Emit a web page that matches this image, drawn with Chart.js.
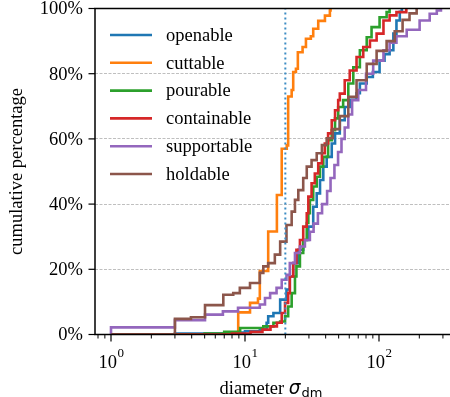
<!DOCTYPE html>
<html>
<head>
<meta charset="utf-8">
<script src="https://cdn.jsdelivr.net/npm/chart.js@4.4.0/dist/chart.umd.min.js"></script>
<style>
  html, body { margin: 0; padding: 0; background: #fff; }
</style>
</head>
<body>
<canvas id="chart" width="450" height="397"></canvas>
<script>
const labels = ["openable", "cuttable", "pourable", "containable", "supportable", "holdable"]
const colors = ["#1f77b4", "#ff7f0e", "#2ca02c", "#d62728", "#9467bd", "#8c564b"]

// diameter (x) and cumulative percentage (y)
const openableX = [1, 3, 7, 10, 12.9, 14.5, 14.9, 16.3, 18.3, 20.4, 21.6, 22.9, 25, 27.2, 29.7, 32.3, 34.3, 36.3, 38.4, 40.7, 44.4, 47, 51, 55.5, 60.5, 68, 72, 81, 90, 101, 110, 120, 128, 135, 143, 148]
const openableY = [0, 0.3, 0.6, 1.0, 1.5, 3.6, 5.6, 6.6, 10.7, 13.8, 17.8, 21.9, 26, 29, 33.1, 39.2, 43.3, 47.4, 51.5, 54.5, 58.6, 61.7, 65.7, 69.8, 72, 74, 77, 79, 80.5, 84, 86, 87.2, 92.3, 96.3, 99, 100]

const cuttableX = [1, 8.9, 10.9, 12.5, 12.9, 14.9, 17.3, 18.8, 20.5, 21, 22.3, 22.9, 24, 24.8, 26.9, 28.5, 31, 32.3, 35.2, 39.5, 43, 43.5]
const cuttableY = [0, 6.8, 9.7, 11, 19.5, 31.6, 42.8, 57, 58, 73, 75, 80.5, 81.5, 86.6, 88.2, 90.7, 91.5, 93.8, 96.2, 97.8, 99.4, 100]

const pourableX = [1, 5, 7, 9.2, 13.7, 16.3, 18.3, 19.9, 21, 22.3, 23.6, 24.2, 25.7, 27.2, 28.9, 29.7, 30.5, 32.3, 34.3, 36.3, 38.4, 41.7, 44.4, 47, 49.6, 54, 59, 64.3, 72, 81, 88, 101, 114, 120]
const pourableY = [0, 0.3, 0.8, 2, 2.5, 3.6, 4, 5.6, 8.6, 12.7, 17.8, 20.9, 25, 29, 34.2, 37.2, 41.3, 45.4, 48.4, 51.5, 54.5, 59.6, 62.7, 66.3, 69.8, 71.9, 77, 82, 87.2, 91.2, 94.3, 97.3, 98.9, 100]

const containableX = [1, 8, 11, 13.5, 15.5, 17.3, 18.8, 19.9, 21, 21.6, 22.9, 24.2, 25.7, 27.2, 28.9, 29.7, 31.4, 33.2, 35.2, 37.5, 39.4, 41.7, 44.4, 47, 49.6, 51, 55.5, 60.5, 68, 76.3, 85.6, 96, 108, 120, 135, 160]
const containableY = [0, 0.3, 0.8, 1.5, 2.5, 3.6, 6.6, 9.7, 12.7, 17.8, 21.9, 26, 29, 33.1, 37.2, 42.3, 46.4, 49.4, 52.5, 55.6, 58.6, 61.7, 65.7, 68.8, 71.9, 73.9, 78, 81, 85.1, 88.2, 90.2, 92.3, 96.3, 97.9, 98.9, 100]

const supportableX = [1, 1, 3, 5.03, 6.84, 8.87, 12.9, 14.1, 15.4, 17.2, 18.8, 20.4, 21.6, 23.6, 25.7, 28, 30.5, 32.5, 35, 37.6, 41, 43.5, 46.5, 49.5, 52.5, 55.5, 59, 63, 70, 80, 90.5, 108, 120, 135, 161, 201, 239, 270, 290]
const supportableY = [0, 2.2, 4.4, 6.1, 7.1, 8.2, 9.2, 11.2, 12.7, 14.3, 16.8, 18.3, 21.9, 25, 27, 29, 31.5, 34, 37.2, 40, 44, 48, 52, 56, 60, 63.5, 67.5, 71.9, 75, 80, 84, 87.2, 89.5, 91.5, 93.5, 96.3, 98.4, 99.4, 100]

const holdableX = [1, 3, 3.95, 5.03, 6.89, 8.17, 9.15, 10.9, 12.9, 13.7, 14.9, 16.7, 18.3, 20.4, 22.3, 23.6, 25, 27.2, 28.9, 31.4, 34.3, 37.5, 40.7, 45.2, 51, 59, 68, 81, 96, 114, 131, 150, 169, 191]
const holdableY = [0, 4.8, 5.3, 9.0, 12.2, 12.7, 14.3, 15.8, 18.9, 20.9, 21.9, 24.5, 28.5, 33.6, 37.7, 41.3, 44.3, 48, 51.5, 53.5, 55.6, 58.1, 60.2, 63, 67, 72.9, 78, 83, 87, 90, 93, 96.5, 98.5, 100]

const threshold = 20
const yTicks = [0, 20, 40, 60, 80, 100]
const xTicks = [1, 10, 100]

const xs = [openableX, cuttableX, pourableX, containableX, supportableX, holdableX]
const ys = [openableY, cuttableY, pourableY, containableY, supportableY, holdableY]

const SERIF = '18.5px "Liberation Serif", "Times New Roman", serif'
const SUP = '13px "Liberation Serif", "Times New Roman", serif'

const datasets = labels.map((name, i) => ({
  label: name,
  data: xs[i].map((x, k) => ({ x: x, y: ys[i][k] })),
  borderColor: colors[i],
  borderWidth: 2.6,
  stepped: true,
  pointRadius: 0,
  fill: false,
  order: labels.length - i
}))
datasets.push({
  label: "threshold",
  data: [{ x: threshold, y: 0 }, { x: threshold, y: 100 }],
  borderColor: "#3d8cc4",
  borderWidth: 2,
  borderDash: [2, 3],
  pointRadius: 0,
  fill: false,
  order: 0
})

const decor = {
  id: 'decor',
  afterDraw(chart) {
    const { ctx, chartArea: a, scales: { x, y } } = chart
    ctx.save()
    ctx.strokeStyle = '#000'
    ctx.fillStyle = '#000'

    // spines
    ctx.lineWidth = 1.5
    ctx.beginPath()
    ctx.moveTo(a.right + 2, a.top)
    ctx.lineTo(a.left, a.top)
    ctx.lineTo(a.left, a.bottom)
    ctx.lineTo(a.right + 2, a.bottom)
    ctx.stroke()

    // y ticks
    ctx.font = SERIF
    ctx.textAlign = 'right'
    ctx.textBaseline = 'middle'
    yTicks.forEach(v => {
      const py = y.getPixelForValue(v)
      ctx.lineWidth = 1.2
      ctx.beginPath(); ctx.moveTo(a.left - 6.5, py); ctx.lineTo(a.left, py); ctx.stroke()
      ctx.fillText(v + '%', a.left - 12, py + 1)
    })

    // x minor ticks
    ctx.lineWidth = 1
    for (let d = 0.1; d < 1000; d *= 10) {
      for (let k = 2; k <= 9; k++) {
        const v = k * d
        if (v < x.min || v > x.max) continue
        const px = x.getPixelForValue(v)
        ctx.beginPath(); ctx.moveTo(px, a.bottom); ctx.lineTo(px, a.bottom + 4); ctx.stroke()
      }
    }
    // x major ticks with 10^n labels
    xTicks.forEach(v => {
      const px = x.getPixelForValue(v)
      ctx.lineWidth = 1.2
      ctx.beginPath(); ctx.moveTo(px, a.bottom); ctx.lineTo(px, a.bottom + 7); ctx.stroke()
      const exp = String(Math.round(Math.log10(v)))
      ctx.font = SERIF
      const wb = ctx.measureText('10').width
      ctx.font = SUP
      const we = ctx.measureText(exp).width
      const x0 = px - (wb + we) / 2
      ctx.textAlign = 'left'
      ctx.textBaseline = 'alphabetic'
      ctx.font = SERIF
      ctx.fillText('10', x0, a.bottom + 33.5)
      ctx.font = SUP
      ctx.fillText(exp, x0 + wb + 0.5, a.bottom + 22.5)
    })

    // x title: diameter σ_dm
    const p1 = 'diameter '
    ctx.font = SERIF
    const w1 = ctx.measureText(p1).width
    const fSig = 'italic 18.5px "DejaVu Sans", sans-serif'
    const fSub = '13px "DejaVu Sans", sans-serif'
    ctx.font = fSig
    const w2 = ctx.measureText('σ').width
    ctx.font = fSub
    const w3 = ctx.measureText('dm').width
    let tx = 271 - (w1 + w2 + w3 + 1) / 2
    const tb = a.bottom + 59
    ctx.textAlign = 'left'
    ctx.font = SERIF; ctx.fillText(p1, tx, tb); tx += w1
    ctx.font = fSig; ctx.fillText('σ', tx, tb); tx += w2 + 1
    ctx.font = fSub; ctx.fillText('dm', tx, tb + 3)

    // y title
    ctx.save()
    ctx.translate(22, (a.top + a.bottom) / 2)
    ctx.rotate(-Math.PI / 2)
    ctx.textAlign = 'center'
    ctx.font = SERIF
    ctx.fillText('cumulative percentage', 0, 0)
    ctx.restore()

    // legend (no frame)
    ctx.font = SERIF
    ctx.textAlign = 'left'
    ctx.textBaseline = 'middle'
    labels.forEach((name, i) => {
      const ly = a.top + 26.5 + i * 27.8
      ctx.strokeStyle = colors[i]
      ctx.lineWidth = 2.6
      ctx.beginPath(); ctx.moveTo(a.left + 15, ly); ctx.lineTo(a.left + 57, ly); ctx.stroke()
      ctx.fillStyle = '#000'
      ctx.fillText(name, a.left + 71, ly + 1)
    })
    ctx.restore()
  }
}

new Chart(document.getElementById('chart'), {
  type: 'line',
  data: { datasets: datasets },
  options: {
    responsive: false,
    animation: false,
    devicePixelRatio: 1,
    layout: { padding: { left: 95, top: 8.5, right: 0, bottom: 62.5 } },
    plugins: { legend: { display: false }, tooltip: { enabled: false } },
    scales: {
      x: {
        type: 'logarithmic',
        min: 0.7596,
        max: 338.8,
        ticks: { display: false },
        grid: { display: false, drawTicks: false },
        border: { display: false }
      },
      y: {
        type: 'linear',
        min: 0,
        max: 100,
        ticks: { display: false, stepSize: 20 },
        grid: {
          drawTicks: false,
          lineWidth: 0.9,
          color: c => (c.tick && c.tick.value > 0 && c.tick.value < 100) ? '#b8b8b8' : 'rgba(0,0,0,0)'
        },
        border: { display: false, dash: [3, 1.5] }
      }
    }
  },
  plugins: [decor]
})
</script>
</body>
</html>
